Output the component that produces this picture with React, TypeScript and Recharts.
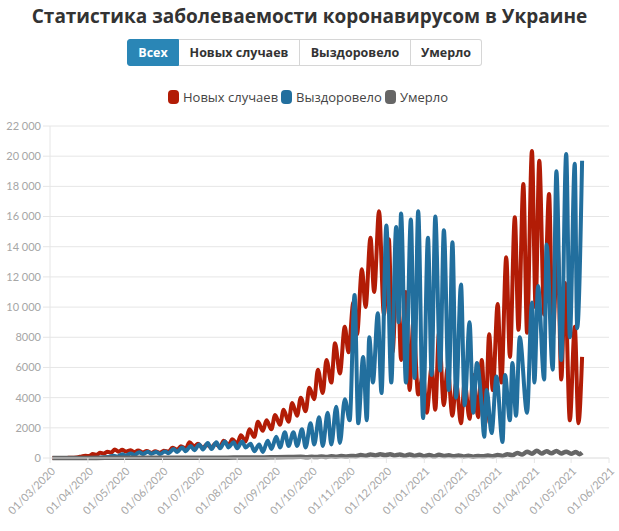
import { CartesianGrid, Line, LineChart, XAxis, YAxis } from 'recharts';

// days counted from 01/03/2020
const tickDays = [0, 31, 61, 92, 122, 153, 184, 214, 245, 275, 306, 337, 365, 396, 426, 457];
const tickLabels = [
  '01/03/2020', '01/04/2020', '01/05/2020', '01/06/2020', '01/07/2020', '01/08/2020', '01/09/2020', '01/10/2020',
  '01/11/2020', '01/12/2020', '01/01/2021', '01/02/2021', '01/03/2021', '01/04/2021', '01/05/2021', '01/06/2021',
];
const yTicks = [0, 2000, 4000, 6000, 8000, 10000, 12000, 14000, 16000, 18000, 20000, 22000];

const newDays = [
  2, 8, 14, 19, 23, 26, 29, 32, 35, 38, 41, 44, 47, 50, 53, 56, 59, 62, 66, 69, 72, 76, 79, 83, 86, 90, 93, 97,
  100, 104, 107, 111, 114, 118, 121, 125, 128, 132, 135, 139, 142, 146, 149, 153, 156, 160, 163, 167, 170, 174,
  177, 181, 184, 188, 191, 195, 198, 202, 205, 209, 212, 216, 219, 223, 226, 230, 233, 237, 241, 244, 248, 251,
  255, 258, 262, 265, 269, 273, 277, 280, 284, 287, 291, 294, 297, 301, 305, 308, 312, 315, 318, 322, 325, 329,
  332, 336, 339, 343, 346, 350, 353, 356, 359, 362, 366, 369, 373, 376, 380, 383, 387, 390, 394, 397, 400, 404,
  408, 411, 415, 418, 421, 425, 429, 432, 435,
];
const newCases = [
  0, 2, 8, 20, 50, 110, 150, 130, 260, 220, 340, 300, 420, 360, 560, 420, 540, 430, 520, 380, 500, 360, 470, 330,
  450, 340, 480, 420, 680, 540, 780, 620, 1050, 760, 950, 650, 900, 700, 950, 750, 1150, 850, 1250, 950, 1500,
  1100, 1900, 1400, 2400, 1800, 2500, 1900, 2850, 2200, 3200, 2400, 3650, 2800, 4000, 3100, 4650, 3900, 5850,
  4300, 6500, 5000, 7600, 5600, 8700, 7000, 10300, 8200, 12500, 10000, 14600, 11000, 16350, 9500, 14500, 7000,
  13000, 6500, 11000, 4500, 9000, 4200, 5500, 3000, 6000, 3200, 8300, 3500, 6000, 2800, 5000, 2300, 5000, 2600,
  5500, 2700, 6500, 2300, 8200, 4500, 10200, 5000, 13300, 6700, 15950, 8500, 18150, 8300, 20350, 10000, 19700,
  9500, 17500, 8000, 14000, 5200, 11600, 2500, 8700, 2300, 6700,
];

const recDays = [
  20, 30, 40, 47, 52, 55, 59, 62, 66, 69, 73, 76, 80, 83, 87, 90, 94, 97, 101, 104, 108, 111, 115, 118, 122, 125,
  129, 132, 136, 139, 143, 146, 150, 153, 157, 160, 164, 167, 171, 174, 178, 181, 185, 188, 192, 195, 199, 202,
  206, 209, 213, 216, 220, 223, 227, 230, 234, 237, 241, 245, 249, 252, 256, 259, 261, 264, 268, 271, 275, 279,
  283, 285, 287, 291, 295, 298, 301, 305, 309, 312, 315, 319, 322, 326, 329, 332, 336, 339, 343, 346, 349, 353,
  355, 357, 361, 365, 370, 372, 376, 378, 381, 384, 390, 394, 396, 399, 404, 406, 411, 414, 418, 422, 425, 429,
  431, 435,
];
const recovered = [
  0, 5, 20, 60, 150, 90, 250, 160, 300, 200, 380, 260, 420, 280, 400, 260, 430, 320, 600, 400, 700, 450, 800, 520,
  900, 560, 1000, 600, 1050, 650, 1100, 700, 1050, 650, 1100, 700, 950, 450, 900, 400, 1150, 600, 1400, 700, 1700,
  800, 1700, 800, 1900, 700, 2300, 900, 2700, 800, 3000, 900, 3400, 1000, 3900, 2500, 10800, 2300, 6700, 2500,
  8000, 5000, 9600, 4300, 15400, 5000, 15300, 9000, 16200, 5000, 15800, 5300, 16350, 2650, 14600, 5500, 16000,
  5800, 15100, 4500, 14300, 4000, 11500, 3500, 9000, 3000, 6300, 3400, 1400, 4500, 1650, 5400, 1060, 5500, 2500,
  6300, 2800, 8000, 3000, 10300, 5000, 11400, 5200, 14150, 5850, 19000, 6500, 20150, 8000, 19500, 8600, 19700,
];

const deathDays = [
  2, 20, 31, 45, 60, 75, 90, 105, 120, 135, 150, 165, 180, 195, 205, 210, 214, 218, 222, 226, 230, 234, 238, 242,
  246, 250, 254, 258, 262, 266, 270, 274, 278, 282, 286, 290, 294, 298, 302, 306, 310, 314, 318, 322, 326, 330,
  334, 338, 342, 346, 350, 354, 358, 362, 366, 370, 374, 378, 382, 386, 390, 394, 398, 402, 406, 410, 414, 418,
  422, 426, 430, 433, 435,
];
const deaths = [
  0, 1, 3, 10, 15, 12, 10, 18, 20, 20, 25, 30, 45, 60, 75, 50, 85, 60, 100, 70, 110, 80, 130, 100, 140, 120, 200,
  150, 240, 170, 250, 180, 250, 160, 240, 150, 240, 140, 220, 120, 200, 110, 210, 130, 190, 110, 170, 100, 150,
  90, 140, 110, 160, 120, 200, 140, 250, 180, 330, 230, 420, 280, 480, 300, 450, 310, 460, 300, 420, 280, 400,
  250, 350,
];

const toPoints = (days: number[], vals: number[]) => days.map((d, i) => ({ d, v: vals[i] }));
const newData = toPoints(newDays, newCases);
const recData = toPoints(recDays, recovered);
const deathData = toPoints(deathDays, deaths);

const RED = '#b21c06';
const BLUE = '#226f9e';
const GREY = '#666666';
const GRID = '#e6e6e6';
const SANS = '"Open Sans", sans-serif';

const fmtY = (v: number) => (v >= 10000 ? `${Math.floor(v / 1000)} ${String(v % 1000).padStart(3, '0')}` : `${v}`);

function DateTick({ x, y, payload }: any) {
  const label = tickLabels[tickDays.indexOf(payload.value)];
  return (
    <g transform={`translate(${x},${y})`}>
      <text x={6} y={7} textAnchor="end" transform="rotate(-45 6 7)" fill="#a6a6a6" fontSize={11} fontFamily="Lato, sans-serif">
        {label}
      </text>
    </g>
  );
}

const buttons = [
  { t: 'Всех', w: 52, on: true },
  { t: 'Новых случаев', w: 121 },
  { t: 'Выздоровело', w: 111 },
  { t: 'Умерло', w: 71 },
];
const legend = [
  { t: 'Новых случаев', c: RED, x: 168 },
  { t: 'Выздоровело', c: BLUE, x: 281 },
  { t: 'Умерло', c: GREY, x: 385 },
];

export default function App() {
  return (
    <div style={{ position: 'absolute', left: 0, top: 0, width: 619, height: 531, background: '#fff', overflow: 'hidden' }}>
      <div style={{ position: 'absolute', top: 2, left: 0, width: 619, textAlign: 'center', fontFamily: SANS, fontWeight: 700, fontSize: 19, color: '#333', lineHeight: '28px' }}>
        Статистика заболеваемости коронавирусом в Украине
      </div>

      {/* filter buttons */}
      <div style={{ position: 'absolute', left: 127, top: 39, height: 27, display: 'flex' }}>
        {buttons.map((b, i) => (
          <div
            key={b.t}
            style={{
              width: b.w, height: 27, boxSizing: 'border-box', border: `1px solid ${b.on ? '#2a86b6' : '#d6d6d6'}`,
              borderLeftWidth: i === 0 || b.on ? 1 : 0,
              borderRadius: i === 0 ? '3px 0 0 3px' : i === buttons.length - 1 ? '0 3px 3px 0' : 0,
              background: b.on ? '#2a86b6' : '#fff', color: b.on ? '#fff' : '#333',
              fontFamily: SANS, fontWeight: 700, fontSize: 12.5, lineHeight: '25px', textAlign: 'center',
            }}
          >
            {b.t}
          </div>
        ))}
      </div>

      {/* legend */}
      {legend.map((l) => (
        <div key={l.t} style={{ position: 'absolute', left: l.x, top: 89, height: 16, display: 'flex', alignItems: 'center' }}>
          <span style={{ display: 'inline-block', width: 11, height: 14, borderRadius: 4, background: l.c, marginRight: 4 }} />
          <span style={{ fontFamily: SANS, fontSize: 13, color: '#444', lineHeight: '16px' }}>{l.t}</span>
        </div>
      ))}

      <div style={{ position: 'absolute', left: 0, top: 0 }}>
        <LineChart width={619} height={531} margin={{ top: 126, right: 10, bottom: 0, left: 0 }}>
          <CartesianGrid horizontal vertical={false} stroke={GRID} />
          <XAxis
            type="number" dataKey="d" domain={[0, 457]} ticks={tickDays} interval={0}
            height={73} tickSize={5} stroke={GRID} tick={<DateTick />} allowDataOverflow
          />
          <YAxis
            type="number" domain={[0, 22000]} ticks={yTicks} interval={0} width={50} tickSize={7}
            stroke={GRID} tickFormatter={fmtY} tick={{ fill: '#a6a6a6', fontSize: 11, fontFamily: 'Lato, sans-serif' }}
          />
          <Line data={newData} dataKey="v" type="monotone" stroke={RED} strokeWidth={4} dot={false} isAnimationActive={false} />
          <Line data={recData} dataKey="v" type="monotone" stroke={BLUE} strokeWidth={4} dot={false} isAnimationActive={false} />
          <Line data={deathData} dataKey="v" type="monotone" stroke={GREY} strokeWidth={4.5} dot={false} isAnimationActive={false} />
        </LineChart>
      </div>
    </div>
  );
}
